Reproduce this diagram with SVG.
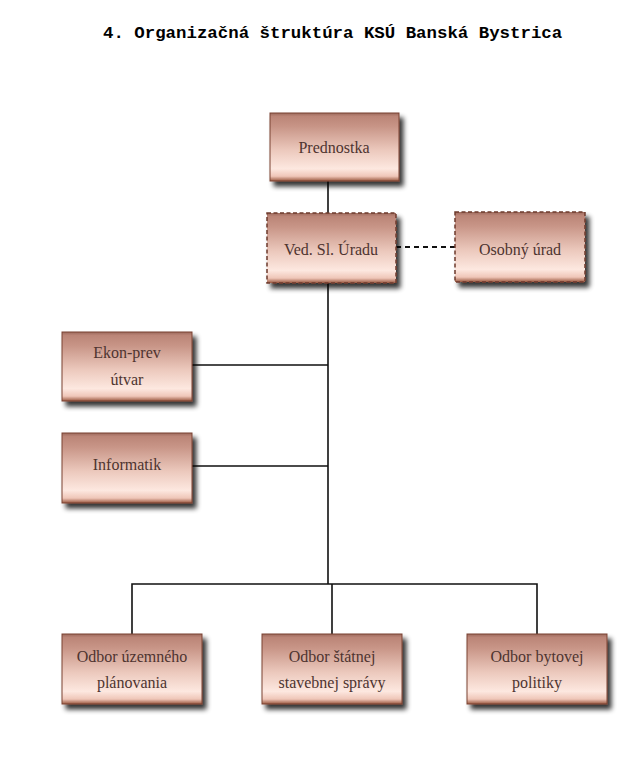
<svg xmlns="http://www.w3.org/2000/svg" width="642" height="779" viewBox="0 0 642 779">
<defs>
<linearGradient id="g" x1="0" y1="0" x2="0" y2="1">
<stop offset="0" stop-color="#9c6a5d"/>
<stop offset="0.05" stop-color="#bb8577"/>
<stop offset="0.2" stop-color="#c89587"/>
<stop offset="0.55" stop-color="#ecc9bd"/>
<stop offset="0.82" stop-color="#fde8e0"/>
<stop offset="0.93" stop-color="#efc6b8"/>
<stop offset="1" stop-color="#9a5840"/>
</linearGradient>
<filter id="sh" x="-20%" y="-20%" width="150%" height="160%">
<feGaussianBlur in="SourceAlpha" stdDeviation="2.5"/>
<feOffset dx="4" dy="5" result="b"/>
<feComponentTransfer><feFuncA type="linear" slope="0.8"/></feComponentTransfer>
<feMerge><feMergeNode/><feMergeNode in="SourceGraphic"/></feMerge>
</filter>
</defs>
<style>
.box{fill:url(#g);stroke:#7a4232;stroke-width:1;filter:url(#sh)}
.dash{stroke:#6e3a2c;stroke-width:1.5;stroke-dasharray:4 2.5}
.t{font-family:"Liberation Serif",serif;font-size:16px;fill:#4e3430;text-anchor:middle}
.ln{fill:none;stroke:#111;stroke-width:1.6}
.title{font-family:"Liberation Mono",monospace;font-weight:bold;font-size:17.4px;fill:#000}
</style>
<rect width="642" height="779" fill="#fff"/>
<text class="title" x="103" y="38">4. Organizačná štruktúra KSÚ Banská Bystrica</text>
<g id="connectors">
<path class="ln" d="M328 181V213M328 283V584M192 365H328M192 466H328M132 634V584H537V634M332 584V634"/>
<path d="M396 247H455" fill="none" stroke="#111" stroke-width="2" stroke-dasharray="5 4"/>
</g>
<g id="prednostka"><rect class="box" x="270" y="113" width="129" height="68"/><text class="t" x="334" y="153">Prednostka</text></g>
<g id="ved"><rect class="box dash" x="267" y="213" width="129" height="70"/><text class="t" x="331" y="255">Ved. Sl. Úradu</text></g>
<g id="osobny"><rect class="box dash" x="455" y="212" width="130" height="70"/><text class="t" x="520" y="255">Osobný úrad</text></g>
<g id="ekon"><rect class="box" x="62" y="332" width="130" height="69"/><text class="t" x="127" y="358">Ekon-prev</text><text class="t" x="127" y="385">útvar</text></g>
<g id="informatik"><rect class="box" x="62" y="433" width="130" height="70"/><text class="t" x="127" y="470">Informatik</text></g>
<g id="uzemne"><rect class="box" x="62" y="634" width="140" height="70"/><text class="t" x="132" y="662">Odbor územného</text><text class="t" x="132" y="688">plánovania</text></g>
<g id="statne"><rect class="box" x="262" y="634" width="140" height="70"/><text class="t" x="332" y="662">Odbor štátnej</text><text class="t" x="332" y="688">stavebnej správy</text></g>
<g id="bytove"><rect class="box" x="467" y="634" width="140" height="70"/><text class="t" x="537" y="662">Odbor bytovej</text><text class="t" x="537" y="688">politiky</text></g>
</svg>
